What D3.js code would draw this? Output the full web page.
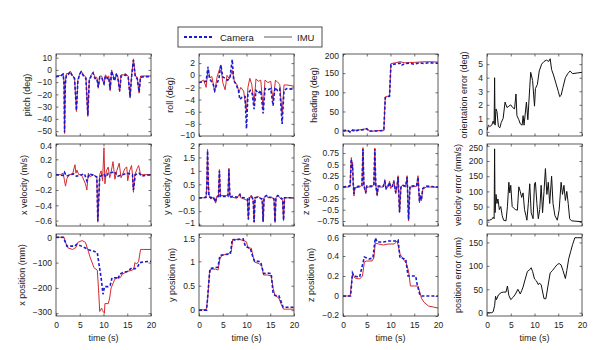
<!DOCTYPE html>
<html lang="en">
<head>
    <meta charset="UTF-8">
    <title>Camera vs IMU</title>
    <script src="https://d3js.org/d3.v7.min.js"></script>
    <style>
        body { margin: 0; background: white; }
        text {
            font-family: "Liberation Sans", Arial, sans-serif;
            fill: #222;
        }
    </style>
</head>
<body>
<script>
    const width = 600;
    const height = 350;

    // time axis
    const timeTicks = [0, 5, 10, 15, 20];

    // tick labels per panel
    const pitchTicks = [-50, -40, -30, -20, -10, 0, 10];
    const rollTicks = [-10, -8, -6, -4, -2, 0, 2];
    const headingTicks = [0, 50, 100, 150, 200];
    const orientTicks = [0, 1, 2, 3, 4, 5];
    const xVelTicks = [-0.6, -0.4, -0.2, 0, 0.2, 0.4];
    const yVelTicks = [-1, -0.5, 0, 0.5, 1, 1.5, 2];
    const zVelTicks = [-0.75, -0.5, -0.25, 0, 0.25, 0.5, 0.75];
    const velErrTicks = [0, 50, 100, 150, 200, 250];
    const xPosTicks = [-300, -200, -100, 0];
    const yPosTicks = [0, 0.5, 1, 1.5];
    const zPosTicks = [-0.2, 0, 0.2, 0.4, 0.6];
    const posErrTicks = [0, 50, 100, 150];

    // series, [time (s), value]
    const pitchImu = [[0,-5],[1,-4.5],[1.5,-3],[1.7,-10],[1.8,-52],[1.95,-10],[2.2,-3],[2.6,-3],[3,-1],[3.5,-5],[3.9,-6],[4.3,-34],[4.6,-8],[5,-3],[5.3,-1],[5.8,-4],[6.3,-6],[6.7,-38],[7,-8],[7.4,-4],[7.8,-2],[8.2,-6],[8.6,-6],[8.9,-15],[9.2,-5],[9.6,-5],[10.1,-12],[10.4,-4],[10.8,-6],[11.1,-5],[11.4,-17],[11.7,0],[12,-4],[12.3,-8],[12.7,-3],[13,-5],[13.4,-18],[13.7,-4],[14.2,-4],[14.6,-3],[15.2,-5],[15.6,-23],[15.9,-5],[16.3,9],[16.7,-5],[17.1,-6],[17.5,-19],[17.8,-5],[18.5,-5],[20,-5]];
    const pitchCam = [[0,-5.5],[1,-5],[1.5,-3.5],[1.7,-12],[1.8,-51],[1.95,-12],[2.2,-4],[2.6,-3.5],[3,-1.5],[3.5,-5.5],[3.9,-7],[4.3,-33],[4.6,-9],[5,-3.5],[5.3,-1.5],[5.8,-5],[6.3,-7],[6.7,-37],[7,-9],[7.4,-5],[7.8,-2.5],[8.2,-7],[8.6,-7],[8.9,-14],[9.2,-6],[9.6,-6],[10.1,-11],[10.4,-5],[10.8,-7],[11.1,-6],[11.4,-16],[11.7,-1],[12,-5],[12.3,-9],[12.7,-4],[13,-6],[13.4,-17],[13.7,-5],[14.2,-5],[14.6,-4],[15.2,-6],[15.6,-22],[15.9,-6],[16.3,8],[16.7,-6],[17.1,-7],[17.5,-18],[17.8,-6],[18.5,-5.5],[20,-5.5]];

    const rollImu = [[0,-1.2],[1,-0.8],[1.5,-2],[1.9,1.0],[2.3,-0.4],[2.7,-0.2],[3,-1.4],[3.3,-2.8],[3.8,-0.3],[4.6,1.7],[5,-1.2],[5.5,-2.4],[5.9,0],[6.4,-0.6],[7,0.8],[7.5,-1.2],[8,-1.5],[8.4,-2.8],[8.8,-2],[9.4,-2.6],[10,-6],[10.3,-2],[10.7,-0.5],[11.1,-1.5],[11.6,-4.5],[12,-0.6],[12.5,-1],[13,-0.8],[13.5,-5.5],[13.9,-0.8],[14.5,-1.2],[15.1,-1],[15.6,-4.2],[16.1,-0.8],[16.6,-1.2],[17,-1.5],[17.5,-6.5],[17.9,-1.6],[18.5,-1.6],[20,-1.8]];
    const rollCam = [[0,-1.2],[1.5,-1],[1.9,1.4],[2.2,-0.5],[3,-1.5],[3.3,-2.5],[4.2,-0.5],[4.6,1.7],[5,-0.3],[5.5,-0.5],[6,-0.8],[6.5,-0.5],[7,2.6],[7.3,-0.8],[7.8,-1.5],[8.3,-2.5],[8.6,-4],[9.2,-3.5],[9.7,-3.5],[10,-8.8],[10.3,-3],[10.8,-2.5],[11.2,-3],[11.6,-5.6],[12,-2.5],[12.5,-3],[13,-2.5],[13.5,-6.3],[13.9,-2.2],[14.5,-2.4],[15.1,-2.2],[15.6,-5],[16,-2],[16.5,-2.5],[17,-2.2],[17.5,-8],[17.9,-2.5],[18.5,-2.2],[20,-2.3]];

    const headingImu = [[0,0],[1,-1],[1.5,-3],[2,2],[3,1],[4,3],[5,5],[5.5,0],[6,-2],[7,0],[8,0],[8.6,0],[8.8,60],[8.9,88],[9.5,90],[9.8,92],[10,150],[10.1,175],[11,177],[12,180],[13,177],[14,178],[15,178],[16,179],[18,180],[20,179]];
    const headingCam = [[0,0],[1,1],[1.5,-4],[2,1],[2.8,-2],[3,1],[4,2],[5,5],[5.5,-2],[6,-1],[7,-1],[8,0],[8.6,1],[8.8,60],[8.9,86],[9.5,88],[9.8,90],[10,150],[10.1,172],[11,174],[12,176],[12.3,170],[13,175],[14,176],[15,173],[16,177],[17,175],[18,177],[20,176]];

    const orientErr = [[0,0.1],[0.3,0.5],[0.6,0.4],[1,0.5],[1.3,0.8],[1.5,0.6],[1.6,4.0],[1.7,0.5],[1.9,1.7],[2.1,1.5],[2.4,0.4],[2.7,0.3],[3,0.7],[3.4,1.0],[3.8,2.2],[4.2,1.8],[4.6,1.9],[5,2.0],[5.4,1.8],[5.8,1.7],[6.1,2.8],[6.3,1.2],[6.7,0.9],[7,0.6],[7.4,0.5],[7.6,1.2],[7.8,0.5],[8.3,2.2],[8.6,0.9],[9,3.3],[9.2,4.4],[9.6,3.8],[10,1.9],[10.2,3.2],[10.6,3.5],[11,4.5],[11.5,5.0],[12,5.2],[12.5,5.3],[13,5.2],[13.3,5.4],[13.6,4.6],[14,4.2],[14.5,3.6],[15,3.0],[15.3,2.6],[15.6,2.7],[16,3.3],[16.5,4.0],[17,4.3],[17.5,4.5],[18,4.3],[19,4.35],[20,4.4]];

    const xVelImu = [[0,0],[1,0],[1.5,0.02],[1.8,-0.08],[2,-0.15],[2.3,-0.05],[2.8,0],[3.5,0.01],[4,0.13],[4.2,0.02],[4.4,0.06],[4.8,0],[5.2,0],[5.5,-0.02],[6.2,-0.12],[6.5,-0.2],[6.8,0.02],[7.2,-0.03],[7.8,0],[8.3,-0.02],[8.6,-0.05],[8.8,-0.62],[9.2,0],[9.5,0.05],[9.8,-0.08],[10.1,0.35],[10.3,-0.12],[10.6,0.05],[11,0.1],[11.3,-0.04],[11.5,0],[12,0.17],[12.4,-0.06],[12.8,0.05],[13.3,0.15],[13.7,-0.04],[14,0],[14.5,0.08],[14.9,0.1],[15.1,-0.08],[15.5,0.05],[15.9,0.12],[16.1,0],[16.3,-0.23],[16.6,0],[17.1,0.08],[17.4,0.12],[17.8,0],[18.5,0],[20,0]];
    const xVelCam = [[0,0],[1.5,-0.01],[1.8,0.03],[2.2,-0.02],[3,0],[3.7,0.01],[4.3,-0.02],[5,-0.01],[6,0.01],[6.5,-0.08],[7,0.01],[8,-0.01],[8.6,-0.03],[8.8,-0.6],[9.2,-0.03],[10,0.01],[10.5,-0.03],[11,0.02],[12,0.03],[12.3,0.04],[13,-0.02],[14,0],[15,0.02],[16.1,0],[16.3,-0.2],[16.7,0],[17.5,0.02],[18,-0.02],[20,0]];

    const yVelImu = [[0,0],[1,0],[1.5,0.05],[1.65,0.5],[1.8,1.8],[1.95,0.6],[2.1,0.1],[2.5,-0.05],[3,0.02],[3.5,-0.2],[3.7,0.05],[4.1,0.1],[4.3,1.05],[4.5,0.08],[5.5,0.08],[6.1,0.1],[6.3,1.1],[6.5,0.05],[7,0.02],[8,-0.02],[8.6,0.15],[8.8,0],[9.5,-0.05],[10.2,-0.1],[10.4,-0.82],[10.6,-0.05],[11,0.1],[11.4,-0.1],[11.6,-0.92],[11.8,0],[12.5,0.05],[13.3,-0.1],[13.5,-0.9],[13.7,0],[14.2,0.1],[14.5,0],[15.5,0],[15.8,-0.1],[16,-0.92],[16.2,0],[16.6,0.1],[17,0],[17.6,-0.1],[17.8,-0.85],[18,0],[20,0]];
    const yVelCam = [[0,0],[1,0],[1.5,0.02],[1.65,0.45],[1.8,1.75],[1.95,0.55],[2.1,0.05],[2.5,0],[3,0.03],[3.5,-0.15],[3.7,0.02],[4.1,0.05],[4.3,1.0],[4.5,0.05],[5.5,0.05],[6.1,0.05],[6.3,1.05],[6.5,0.02],[7,0.05],[8,0.02],[8.6,0.12],[8.8,0.02],[9.5,0],[10.2,-0.05],[10.4,-0.8],[10.6,0],[11,0.05],[11.4,-0.05],[11.6,-0.9],[11.8,0],[12.5,0.02],[13.3,-0.05],[13.5,-0.88],[13.7,0.02],[14.2,0.08],[14.5,0.02],[15.5,0.02],[15.8,-0.05],[16,-0.9],[16.2,0.02],[16.6,0.08],[17,0.02],[17.6,-0.05],[17.8,-0.83],[18,0],[20,0]];

    const zVelImu = [[0,0],[1.3,0],[1.5,0.05],[1.75,0.65],[1.9,0.45],[2,0.55],[2.15,0.1],[2.3,-0.2],[2.5,-0.02],[3.5,0],[4,0.05],[4.2,0.87],[4.4,0.05],[4.8,-0.15],[5,0],[6,0],[6.5,0.05],[6.7,0.86],[6.9,0.05],[7.2,-0.2],[7.4,0],[8.5,0],[8.8,0.15],[9.1,-0.05],[9.5,0.02],[9.8,0.13],[10,-0.03],[10.4,0],[10.7,0.15],[11.1,-0.15],[11.4,0.05],[11.6,0.25],[11.9,-0.57],[12.2,0],[12.6,0.05],[13.2,0],[13.5,0.25],[13.8,-0.75],[14.1,0],[14.4,0],[15.5,0.02],[15.8,0.25],[16.1,-0.35],[16.3,-0.2],[16.5,-0.3],[16.8,-0.05],[17.5,0],[20,0]];
    const zVelCam = [[0,0],[1.3,0.02],[1.5,0.03],[1.75,0.62],[1.9,0.42],[2,0.5],[2.15,0.08],[2.3,-0.15],[2.5,0],[3.5,0.02],[4,0.03],[4.2,0.84],[4.4,0.03],[4.8,-0.12],[5,0.02],[6,0.02],[6.5,0.03],[6.7,0.84],[6.9,0.03],[7.2,-0.17],[7.4,0.02],[8.5,0.02],[8.8,0.12],[9.1,-0.03],[9.5,0.03],[9.8,0.1],[10,0],[10.4,0.02],[10.7,0.12],[11.1,-0.12],[11.4,0.03],[11.6,0.22],[11.9,-0.55],[12.2,0.02],[12.6,0.03],[13.2,0.02],[13.5,0.22],[13.8,-0.72],[14.1,0.02],[14.4,0.02],[15.5,0.03],[15.8,0.22],[16.1,-0.32],[16.3,-0.18],[16.5,-0.28],[16.8,-0.03],[17.5,0.02],[20,0]];

    const velErr = [[0,5],[0.5,5],[1,8],[1.3,15],[1.5,10],[1.6,240],[1.7,30],[1.9,90],[2.1,60],[2.3,75],[2.6,40],[2.9,50],[3.2,20],[3.5,5],[4,3],[4.3,50],[4.6,130],[4.8,95],[5,120],[5.3,50],[5.6,45],[6,40],[6.4,38],[6.7,115],[7,100],[7.3,80],[7.6,95],[7.9,40],[8.2,20],[8.4,5],[8.7,60],[9,125],[9.3,30],[9.7,10],[10,125],[10.2,130],[10.5,60],[10.8,10],[11.1,40],[11.4,120],[11.7,30],[12,100],[12.3,175],[12.6,90],[12.9,130],[13.2,60],[13.6,150],[13.9,60],[14.3,20],[14.8,5],[15.2,40],[15.6,130],[15.9,90],[16.2,120],[16.5,70],[16.8,100],[17.1,60],[17.4,10],[17.8,3],[18.5,2],[20,0]];

    const xPosImu = [[0,0],[1.7,0],[2,-20],[2.5,-42],[3.5,-48],[4.2,-40],[4.6,-20],[5.5,-13],[6.2,-20],[6.8,-55],[7.2,-80],[8,-120],[8.7,-130],[9,-220],[9.2,-293],[9.6,-280],[9.8,-290],[10.2,-300],[10.3,-262],[11,-262],[11.3,-240],[11.6,-200],[12.4,-165],[13,-160],[13.5,-160],[14,-145],[15,-135],[16,-130],[16.4,-125],[16.6,-100],[17,-105],[17.4,-95],[17.8,-48],[18.5,-48],[20,-48]];
    const xPosCam = [[0,0],[1.5,0],[2,-20],[2.3,-35],[4,-35],[4.3,-28],[5,-32],[6.5,-45],[7,-50],[8,-55],[8.7,-62],[9,-100],[9.5,-160],[9.9,-225],[10.2,-195],[11,-195],[11.4,-190],[11.8,-160],[12.7,-160],[13,-165],[13.5,-145],[14,-140],[15,-135],[16,-120],[16.6,-125],[17.2,-115],[17.7,-100],[18.5,-97],[20,-95]];

    const yPosImu = [[0,0],[1.5,0.01],[1.8,0.2],[2.2,0.75],[2.5,0.84],[3.5,0.84],[4,0.82],[4.4,1.05],[4.8,1.12],[5.5,1.14],[6.2,1.16],[6.8,1.2],[7.1,1.45],[8.5,1.45],[9.5,1.42],[10,1.4],[10.3,1.27],[11,1.27],[11.5,1.05],[11.8,0.98],[12.7,0.95],[13.2,0.9],[13.6,0.72],[14.5,0.72],[15.2,0.7],[15.6,0.45],[16,0.3],[16.8,0.25],[17.3,0.12],[17.8,0.02],[20,0.02]];
    const yPosCam = [[0,0],[1.6,0],[2.3,0.85],[3.3,0.87],[4,0.88],[4.4,1.12],[5.5,1.14],[6.6,1.15],[7,1.45],[7.8,1.43],[8.3,1.45],[9.3,1.46],[9.8,1.3],[10.8,1.27],[11.3,1.1],[11.7,1.0],[12.6,1.0],[13,0.98],[13.6,0.75],[14.3,0.76],[15.2,0.75],[15.6,0.35],[16,0.3],[16.8,0.3],[17.5,0.12],[17.7,0.06],[20,0.06]];

    const zPosImu = [[0,0],[1.5,0],[1.9,0.18],[2.1,0.22],[2.5,0.18],[3.5,0.17],[4.1,0.2],[4.5,0.34],[5,0.35],[6.1,0.35],[6.5,0.38],[6.8,0.53],[7.5,0.52],[8.5,0.51],[9.5,0.52],[10.8,0.52],[11.4,0.55],[12,0.42],[12.8,0.36],[13.3,0.33],[13.8,0.25],[14.2,0.1],[15,0.1],[15.8,0.1],[16.5,-0.02],[17,-0.06],[18,-0.1],[19,-0.11],[20,-0.12]];
    const zPosCam = [[0,0],[1.6,0],[2,0.23],[2.3,0.2],[3.5,0.19],[4.3,0.35],[4.5,0.39],[5.5,0.37],[6.3,0.38],[6.8,0.58],[7.2,0.54],[8.5,0.54],[9.5,0.55],[11,0.55],[11.6,0.56],[12,0.38],[13.2,0.37],[13.7,0.2],[14.8,0.2],[15.3,0.2],[15.6,0.12],[16.2,0.01],[16.6,0],[20,0]];

    const posErr = [[0,0],[1,0],[1.3,2],[1.6,15],[1.8,35],[2,28],[2.4,38],[3,43],[3.5,44],[4,44],[4.3,57],[4.6,37],[5,28],[5.5,33],[6,40],[6.5,50],[7,40],[7.3,47],[7.6,55],[8,70],[8.5,88],[9,92],[9.3,96],[9.6,88],[10,72],[10.4,68],[10.8,60],[11,63],[11.4,60],[11.8,40],[12,30],[12.4,30],[12.8,55],[13.3,85],[13.8,90],[14.3,97],[14.8,103],[15.2,105],[15.6,102],[16,90],[16.5,73],[16.8,90],[17.2,115],[17.6,130],[18,145],[18.5,160],[19,160],[20,160]];

    const panels = [
        {r: 0, c: 0, label: "pitch (deg)", domain: [-54, 13], ticks: pitchTicks, cam: pitchCam, imu: pitchImu},
        {r: 0, c: 1, label: "roll (deg)", domain: [-10, 3.5], ticks: rollTicks, cam: rollCam, imu: rollImu},
        {r: 0, c: 2, label: "heading (deg)", domain: [-14, 200], ticks: headingTicks, cam: headingCam, imu: headingImu},
        {r: 0, c: 3, label: "orientation error (deg)", domain: [-0.3, 5.75], ticks: orientTicks, err: orientErr},
        {r: 1, c: 0, label: "x velocity (m/s)", domain: [-0.67, 0.4], ticks: xVelTicks, cam: xVelCam, imu: xVelImu},
        {r: 1, c: 1, label: "y velocity (m/s)", domain: [-1.05, 2], ticks: yVelTicks, cam: yVelCam, imu: yVelImu},
        {r: 1, c: 2, label: "z velocity (m/s)", domain: [-0.86, 0.95], ticks: zVelTicks, cam: zVelCam, imu: zVelImu},
        {r: 1, c: 3, label: "velocity error (mm/s)", domain: [-14, 256], ticks: velErrTicks, err: velErr},
        {r: 2, c: 0, label: "x position (mm)", domain: [-311, 13], ticks: xPosTicks, cam: xPosCam, imu: xPosImu},
        {r: 2, c: 1, label: "y position (m)", domain: [-0.12, 1.56], ticks: yPosTicks, cam: yPosCam, imu: yPosImu},
        {r: 2, c: 2, label: "z position (m)", domain: [-0.2, 0.62], ticks: zPosTicks, cam: zPosCam, imu: zPosImu},
        {r: 2, c: 3, label: "position error (mm)", domain: [-7, 168], ticks: posErrTicks, err: posErr}
    ];

    // layout
    const colLeft = [56, 199, 343, 487];
    const rowTop = [54, 144, 234];
    const pw = 95, ph = 82;

    const svg = d3.select("body").append("svg")
            .attr("width", width).attr("height", height);

    const fmt = v => String(v).replace("-", "\u2212");

    panels.forEach((p, i) => {
        const x0 = colLeft[p.c], y0 = rowTop[p.r];
        const g = svg.append("g").attr("transform", `translate(${x0},${y0})`);
        const x = d3.scaleLinear().domain([0, 20]).range([0, pw]);
        const y = d3.scaleLinear().domain(p.domain).range([ph, 0]);

        g.append("clipPath").attr("id", "clip" + i)
                .append("rect").attr("width", pw).attr("height", ph);

        const line = d3.line().x(d => x(d[0])).y(d => y(d[1]));
        const plot = g.append("g").attr("clip-path", `url(#clip${i})`);

        if (p.err) {
            plot.append("path").datum(p.err)
                    .attr("d", line)
                    .style("fill", "none")
                    .style("stroke", "#111")
                    .style("stroke-width", 1);
        } else {
            plot.append("path").datum(p.imu)
                    .attr("d", line)
                    .style("fill", "none")
                    .style("stroke", "#d42a30")
                    .style("stroke-width", 1);
            plot.append("path").datum(p.cam)
                    .attr("d", line)
                    .style("fill", "none")
                    .style("stroke", "#1a1ad0")
                    .style("stroke-width", 1.6)
                    .style("stroke-dasharray", "3,2");
        }

        // ticks inside on all four sides
        const tk = 2.5;
        const axisStyle = sel => {
            sel.select(".domain").remove();
            sel.selectAll("line").style("stroke", "#333").style("stroke-width", 0.7);
            sel.selectAll("text").style("font-size", "8.5px").style("fill", "#222");
        };
        const showX = p.r === 2;
        g.append("g").attr("transform", `translate(0,${ph})`)
                .call(d3.axisBottom(x).tickValues(timeTicks).tickSize(-tk).tickPadding(6)
                        .tickFormat(showX ? fmt : ""))
                .call(axisStyle);
        g.append("g")
                .call(d3.axisTop(x).tickValues(timeTicks).tickSize(-tk).tickFormat(""))
                .call(axisStyle);
        const yAx = g.append("g")
                .call(d3.axisLeft(y).tickValues(p.ticks).tickSize(-tk).tickPadding(4).tickFormat(fmt))
                .call(axisStyle);
        g.append("g").attr("transform", `translate(${pw},0)`)
                .call(d3.axisRight(y).tickValues(p.ticks).tickSize(-tk).tickFormat(""))
                .call(axisStyle);

        // keep labels at the very edges from running into the neighbouring panel
        yAx.selectAll(".tick").each(function(d) {
            const t = d3.select(this).select("text");
            if (y(d) < 3) t.attr("y", 1.5);
            if (y(d) > ph - 3) t.attr("y", -1.5);
        });

        g.append("rect").attr("width", pw).attr("height", ph)
                .style("fill", "none").style("stroke", "#333").style("stroke-width", 0.8);

        let maxW = 0;
        yAx.selectAll("text").each(function() { maxW = Math.max(maxW, this.getComputedTextLength()); });
        const lx = -Math.max(20, maxW + 12);
        g.append("text")
                .attr("transform", `translate(${lx},${ph / 2}) rotate(-90)`)
                .attr("text-anchor", "middle")
                .style("font-size", "9px")
                .text(p.label);

        if (showX) {
            g.append("text")
                    .attr("x", pw / 2).attr("y", ph + 25)
                    .attr("text-anchor", "middle")
                    .style("font-size", "9px")
                    .text("time (s)");
        }
    });

    // legend
    const lg = svg.append("g").attr("transform", "translate(178,27)");
    lg.append("rect").attr("width", 144).attr("height", 20)
            .style("fill", "white").style("stroke", "#222").style("stroke-width", 0.8);
    lg.append("line").attr("x1", 6).attr("x2", 36).attr("y1", 10).attr("y2", 10)
            .style("stroke", "#1a1ad0").style("stroke-width", 1.8).style("stroke-dasharray", "3,2");
    lg.append("text").attr("x", 42).attr("y", 13.5).style("font-size", "9.5px").text("Camera");
    lg.append("line").attr("x1", 86).attr("x2", 114).attr("y1", 10).attr("y2", 10)
            .style("stroke", "#333").style("stroke-width", 0.8);
    lg.append("text").attr("x", 119).attr("y", 13.5).style("font-size", "9.5px").text("IMU");
</script>
</body>
</html>
